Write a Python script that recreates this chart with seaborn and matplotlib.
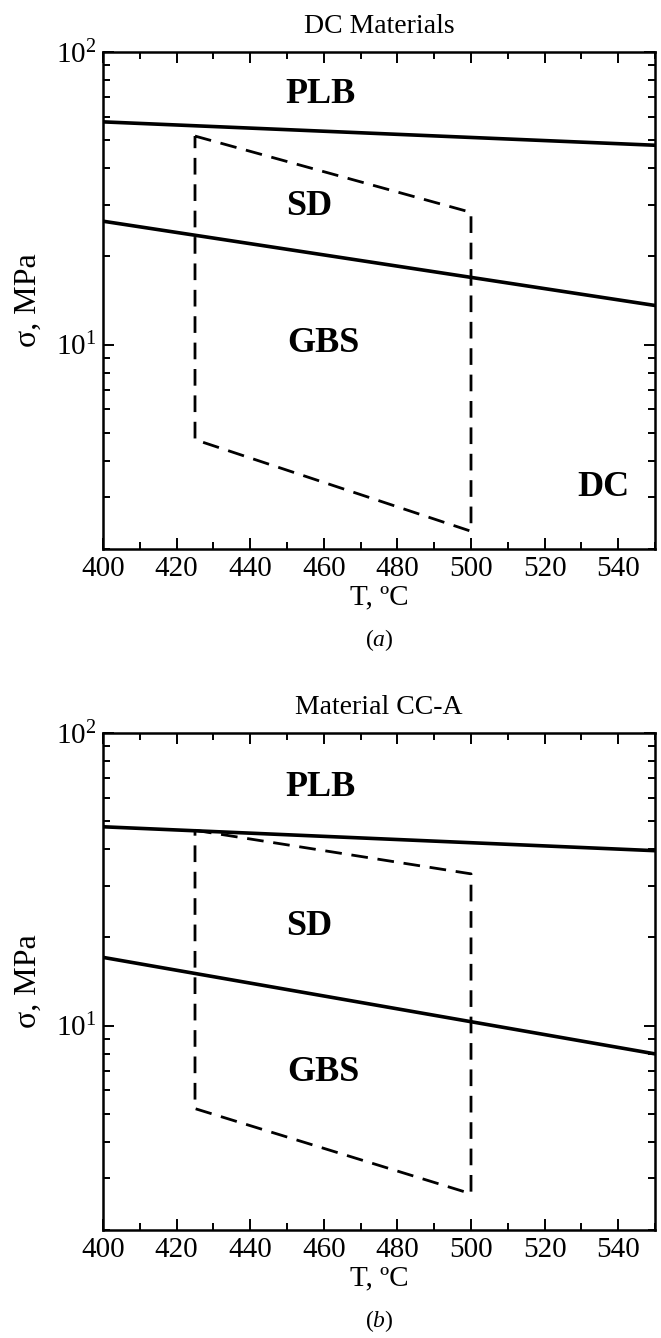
import numpy as np
import pandas as pd
import matplotlib
matplotlib.use("Agg")
import matplotlib.pyplot as plt
from matplotlib.ticker import MultipleLocator, LogLocator, NullFormatter
import seaborn as sns

sns.set_theme(style="ticks")
plt.rcParams["font.family"] = ["Liberation Serif", "DejaVu Serif"]
plt.rcParams["mathtext.fontset"] = "custom"
plt.rcParams["mathtext.rm"] = "Liberation Serif"
plt.rcParams["mathtext.it"] = "Liberation Serif:italic"
plt.rcParams["text.color"] = "black"
plt.rcParams["axes.labelcolor"] = "black"
plt.rcParams["xtick.color"] = "black"
plt.rcParams["ytick.color"] = "black"

# Temperature axis (deg C)
temps = [400, 550]
box_temps = [425, 500]

# Panel (a): DC materials
a_plb_line = [57.7, 48.0]     # PLB / SD boundary
a_gbs_line = [26.4, 13.6]     # SD / GBS boundary
a_box_top = [51.6, 28.3]
a_box_bottom = [4.73, 2.30]

# Panel (b): material CC-A
b_plb_line = [47.8, 39.6]
b_gbs_line = [17.1, 8.0]
b_box_top = [46.5, 33.0]
b_box_bottom = [5.2, 2.66]

regions = ["PLB", "SD", "GBS", "DC"]
a_label_T = [459, 456, 460, 536]
a_label_s = [71.4, 29.7, 10.1, 3.24]
b_label_T = [459, 456, 460]
b_label_s = [65.0, 21.8, 6.9]

titles = ["DC Materials", "Material CC-A"]
panel_tags = ["a", "b"]

W, H = 661, 1338
fig = plt.figure(figsize=(W / 100, H / 100), dpi=100)
ax_a = fig.add_axes([103 / W, 1 - 549 / H, 552 / W, 497 / H])
ax_b = fig.add_axes([103 / W, 1 - 1230 / H, 552 / W, 497 / H])


def draw_panel(ax, plb, gbs, top, bottom, lab_T, lab_s, title, tag):
    lines = pd.DataFrame({"T": temps * 2, "s": plb + gbs,
                          "b": ["upper"] * 2 + ["lower"] * 2})
    sns.lineplot(data=lines, x="T", y="s", units="b", estimator=None,
                 color="black", lw=2.6, ax=ax, legend=False)
    # dashed test window
    box_T = [box_temps[0], box_temps[1], box_temps[1], box_temps[0], box_temps[0]]
    box_s = [top[0], top[1], bottom[1], bottom[0], top[0]]
    box = pd.DataFrame({"T": box_T, "s": box_s})
    sns.lineplot(data=box, x="T", y="s", sort=False, estimator=None,
                 color="black", lw=2.0, ax=ax, legend=False)
    ax.lines[-1].set_dashes([6, 3.5])

    ax.set_yscale("log")
    ax.set_xlim(400, 550)
    ax.set_ylim(2, 100)
    ax.xaxis.set_major_locator(MultipleLocator(20))
    ax.xaxis.set_minor_locator(MultipleLocator(10))
    ax.yaxis.set_major_locator(LogLocator(base=10, numticks=5))
    ax.yaxis.set_minor_locator(LogLocator(base=10, subs=np.arange(2, 10), numticks=20))
    ax.yaxis.set_minor_formatter(NullFormatter())
    ax.tick_params(which="both", direction="in", top=True, right=True,
                   width=1.4, colors="black", labelsize=21, pad=5)
    ax.tick_params(which="major", length=7.7)
    ax.tick_params(which="minor", length=4.8)
    for sp in ax.spines.values():
        sp.set_linewidth(1.8)
        sp.set_color("black")

    ax.set_xlabel("T, ºC", fontsize=21, labelpad=2)
    ax.set_ylabel("σ, MPa", fontsize=23, labelpad=9)
    ax.set_title(title, fontsize=20, pad=14)
    ax.text(0.5, -0.183, f"(${tag}$)", transform=ax.transAxes,
            ha="center", va="center", fontsize=17)

    for name, t, s in zip(regions, lab_T, lab_s):
        ax.text(t, s, name, ha="center", va="center", fontsize=26,
                fontweight="bold")


draw_panel(ax_a, a_plb_line, a_gbs_line, a_box_top, a_box_bottom,
           a_label_T, a_label_s, titles[0], panel_tags[0])
draw_panel(ax_b, b_plb_line, b_gbs_line, b_box_top, b_box_bottom,
           b_label_T, b_label_s, titles[1], panel_tags[1])

fig.savefig("out.png", dpi=100)
